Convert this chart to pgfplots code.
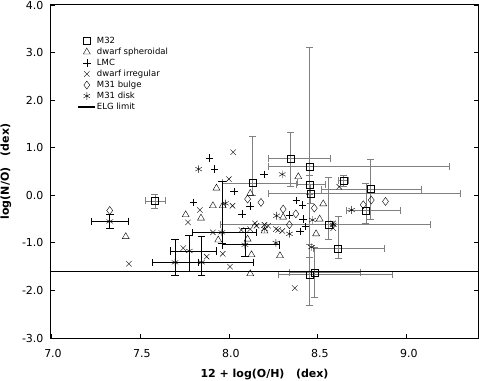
\documentclass[border=0pt]{standalone}
\usepackage{fontspec}
\setmainfont{DejaVu Sans}
\usepackage{pgfplots}
\pgfplotsset{compat=1.18}
\begin{document}
\begin{tikzpicture}
\useasboundingbox (-51pt,-42pt) rectangle (428pt,338pt);
\begin{axis}[
  scale only axis, width=427pt, height=333pt,
  at={(0,0)}, anchor=south west,
  xmin=7, xmax=9.4, ymin=-3, ymax=4,
  xtick={7,7.5,8,8.5,9}, ytick={-3,-2,...,4},
  xtick pos=left, ytick pos=both, tick align=inside,
  major tick length=4pt,
  every tick/.style={black, line width=0.8pt},
  axis line style={line width=1pt},
  tick label style={font=\fontsize{11}{13}\selectfont},
  xticklabel style={yshift=-8pt, xshift=2pt},
  yticklabel style={xshift=-4pt},
  /pgf/number format/.cd, fixed, fixed zerofill, precision=1, assume math mode=true,
  /pgfplots/.cd,
  xlabel={\bfseries 12 + log(O/H)\ \ \ (dex)},
  ylabel={\bfseries log(N/O)\ \ \ (dex)},
  label style={font=\fontsize{11}{13}\selectfont},
  xlabel style={yshift=-4pt},
  ylabel style={yshift=4pt},
  legend cell align=left,
  legend style={at={(0.055,0.915)}, anchor=north west, draw=none, fill=none,
    font=\fontsize{8.5}{10}\selectfont,
    nodes={inner sep=1pt, text height=7pt, text depth=2pt}, row sep=0pt},
  every mark/.append style={line width=0.7pt},
]
% M32 with gray error bars
\addplot[only marks, mark=square, mark size=3.5pt, black,
  error bars/.cd, x dir=both, x explicit, y dir=both, y explicit,
  error bar style={gray, line width=0.8pt}]
coordinates {
(7.584,-0.12) +- (0.056,0.15)
(8.133,0.26) += (0.25,0.99) -= (0.17,0.25)
(8.348,0.765) += (0.22,0.565) -= (0.125,0.565)
(8.455,0.60) += (0.785,2.52) -= (0.235,1.9)
(8.455,0.22) += (0.085,0.2) -= (0.075,0.2)
(8.46,0.04) += (0.84,0.2) -= (0.24,0.2)
(8.643,0.31) +- (0.03,0.12)
(8.798,0.13) +- (0.28,0.63)
(8.77,-0.32) += (0.19,0.57) -= (0.11,0.27)
(8.56,-0.62) += (0.57,1.0) -= (0.61,0.3)
(8.614,-1.12) += (0.26,0.68) -= (0.14,0.2)
(8.455,-1.67) += (0.465,0.65) -= (0.18,0.65)
(8.48,-1.62) += (0.26,0.53) -= (0.14,0.53)
};
\addlegendentry{M32}
% dwarf spheroidal
\addplot[only marks, mark=triangle, mark size=4pt, black] coordinates {
(7.42,-0.87) (7.757,-0.41) (7.843,-0.48) (7.91,-0.22) (7.93,0.15)
(7.94,-0.94) (7.965,-0.22) (8.12,0.04) (8.105,-0.92) (8.127,-1.25)
(8.12,-1.65) (8.2,-0.75) (8.287,-1.27) (8.305,-0.46) (8.39,0.39)
(8.49,-0.81) (8.51,-0.5) (8.53,-0.18)
};
\addlegendentry{dwarf spheroidal}
% LMC
\addplot[only marks, mark=+, mark size=3.8pt, black] coordinates {
(7.89,0.78) (7.92,0.55) (7.80,-0.15) (8.03,0.08) (8.198,0.44)
(8.118,-0.22) (8.075,-0.39) (8.38,-0.11) (8.414,-0.2) (8.34,-0.41)
(8.417,-0.5) (8.43,-0.66) (8.40,-0.76)
};
\addlegendentry{LMC}
% dwarf irregular
\addplot[only marks, mark=x, mark size=3.8pt, black] coordinates {
(7.438,-1.44) (7.77,-0.57) (7.837,-0.31) (7.743,-1.11) (7.875,-1.29)
(7.91,-0.78) (7.965,-1.23) (8.006,-1.5) (8.37,-1.95) (8.024,0.905)
(8.0,0.34) (8.02,-0.22) (8.07,-0.73) (8.12,-0.71) (8.155,-0.64)
(8.146,-0.59) (8.2,-0.62) (8.22,-0.64) (8.264,-0.71) (8.277,-0.73)
(8.3,-0.75) (8.586,-0.59) (8.586,-0.69) (8.62,0.18)
};
\addlegendentry{dwarf irregular}
% M31 bulge
\addplot[only marks, mark=diamond, mark size=4pt, black] coordinates {
(7.33,-0.32) (8.105,-0.08) (8.18,-0.15) (8.305,-0.29) (8.376,-0.39)
(8.48,-0.27) (8.34,-0.62) (8.755,-0.2) (8.8,-0.1) (8.88,-0.13)
};
\addlegendentry{M31 bulge}
% M31 disk, points with error bars
\addplot[only marks, mark=asterisk, mark size=3.8pt, black, forget plot,
  error bars/.cd, x dir=both, x explicit, y dir=both, y explicit,
  error bar style={black, line width=0.6pt}]
coordinates {
(7.33,-0.55) +- (0.105,0.15)
(7.697,-1.41) += (0.13,0.49) -= (0.13,0.26)
(7.846,-1.41) += (0.29,0.54) -= (0.15,0.28)
(7.777,-1.17) += (0.153,0.34) -= (0.105,0.43)
(7.96,-0.78) += (0.195,1.07) -= (0.164,0.22)
(8.09,-1.04) += (0.19,0.35) -= (0.13,0.25)
};
% M31 disk, other points
\addplot[only marks, mark=asterisk, mark size=3.8pt, black] coordinates {
(7.83,0.55) (7.98,-0.17) (8.20,-0.71) (8.268,-0.43) (8.264,-1.0)
(8.30,0.44) (8.34,-0.81) (8.47,-0.52) (8.464,-1.09) (8.69,-0.31)
(8.586,-0.62)
};
\addlegendentry{M31 disk}
% ELG limit
\addplot[black, line width=1.2pt] coordinates {(7,-1.6) (9.4,-1.6)};
\addlegendentry{ELG limit}
\end{axis}
\end{tikzpicture}
\end{document}
